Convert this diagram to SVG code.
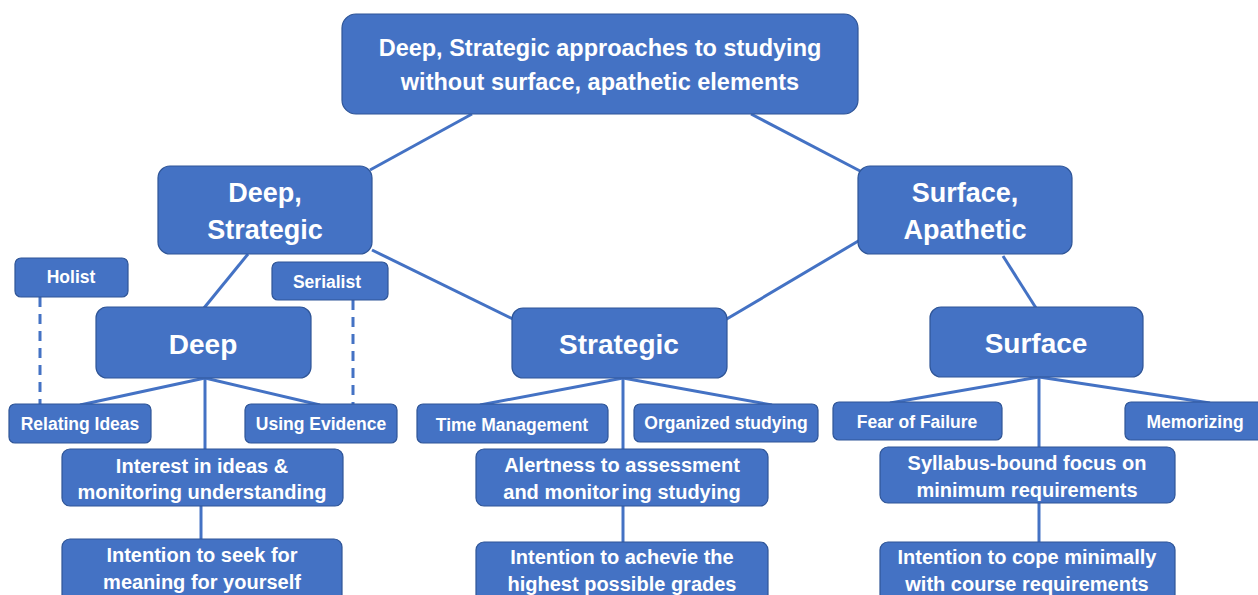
<svg xmlns="http://www.w3.org/2000/svg" width="1258" height="595" viewBox="0 0 1258 595">
<style>
.b{fill:#4472C4;stroke:#2F5597;stroke-width:1.2}
.t{fill:#fff;font-family:"Liberation Sans",Arial,sans-serif;font-weight:bold;text-anchor:middle;dominant-baseline:central}
.s{font-size:17.5px}
.m{font-size:20px}
.c line{stroke:#4472C4;stroke-width:3}
.d{stroke-dasharray:10 7}
</style>
<rect width="1258" height="595" fill="#fff"/>
<g class="c" id="connectors">
<line x1="472" y1="114" x2="370" y2="170"/>
<line x1="751" y1="114" x2="862" y2="172"/>
<line x1="248" y1="254" x2="204" y2="308"/>
<line x1="372" y1="250" x2="515" y2="320"/>
<line x1="860" y1="240" x2="725" y2="320"/>
<line x1="1003" y1="256" x2="1036" y2="308"/>
<line x1="205" y1="378" x2="80" y2="405"/>
<line x1="205" y1="378" x2="320" y2="405"/>
<line x1="205" y1="378" x2="205" y2="450"/>
<line x1="201" y1="506" x2="201" y2="540"/>
<line class="d" x1="40" y1="297" x2="40" y2="404"/>
<line class="d" x1="353" y1="300" x2="353" y2="404"/>
<line x1="623" y1="378" x2="480" y2="405"/>
<line x1="623" y1="378" x2="772" y2="405"/>
<line x1="623" y1="378" x2="623" y2="450"/>
<line x1="623" y1="506" x2="623" y2="543"/>
<line x1="1039" y1="377" x2="890" y2="403"/>
<line x1="1039" y1="377" x2="1210" y2="403"/>
<line x1="1039" y1="377" x2="1039" y2="448"/>
<line x1="1039" y1="503" x2="1039" y2="543"/>
</g>
<g id="root"><rect class="b" x="342" y="14" width="516" height="100" rx="14"/>
<text class="t" x="600" y="48" font-size="23.5">Deep, Strategic approaches to studying</text>
<text class="t" x="600" y="82" font-size="23.5">without surface, apathetic elements</text></g>
<g id="deep-strategic"><rect class="b" x="158" y="166" width="214" height="88" rx="12"/>
<text class="t" x="265" y="193" font-size="27">Deep,</text>
<text class="t" x="265" y="230" font-size="27">Strategic</text></g>
<g id="surface-apathetic"><rect class="b" x="858" y="166" width="214" height="88" rx="12"/>
<text class="t" x="965" y="193" font-size="27">Surface,</text>
<text class="t" x="965" y="230" font-size="27">Apathetic</text></g>
<g id="holist"><rect class="b" x="15" y="258" width="113" height="39" rx="6"/>
<text class="t s" x="71" y="277">Holist</text></g>
<g id="serialist"><rect class="b" x="272" y="262" width="116" height="38" rx="6"/>
<text class="t s" x="327" y="282">Serialist</text></g>
<g id="deep"><rect class="b" x="96" y="307" width="215" height="71" rx="11"/>
<text class="t" x="203" y="344" font-size="28">Deep</text></g>
<g id="strategic"><rect class="b" x="512" y="308" width="215" height="70" rx="11"/>
<text class="t" x="619" y="344" font-size="28">Strategic</text></g>
<g id="surface"><rect class="b" x="930" y="307" width="213" height="70" rx="11"/>
<text class="t" x="1036" y="343" font-size="28">Surface</text></g>
<g id="relating"><rect class="b" x="9" y="404" width="142" height="39" rx="6"/>
<text class="t s" x="80" y="424">Relating Ideas</text></g>
<g id="evidence"><rect class="b" x="245" y="404" width="152" height="39" rx="6"/>
<text class="t s" x="321" y="424">Using Evidence</text></g>
<g id="time"><rect class="b" x="417" y="404" width="191" height="39" rx="6"/>
<text class="t s" x="512" y="425">Time Management</text></g>
<g id="organized"><rect class="b" x="634" y="404" width="184" height="38" rx="6"/>
<text class="t s" x="726" y="423">Organized studying</text></g>
<g id="fear"><rect class="b" x="833" y="402" width="169" height="38" rx="6"/>
<text class="t s" x="917" y="422">Fear of Failure</text></g>
<g id="memorizing"><rect class="b" x="1125" y="402" width="140" height="38" rx="6"/>
<text class="t s" x="1195" y="422">Memorizing</text></g>
<g id="interest"><rect class="b" x="62" y="449" width="281" height="57" rx="8"/>
<text class="t m" x="202" y="466">Interest in ideas &amp;</text>
<text class="t m" x="202" y="492">monitoring understanding</text></g>
<g id="alertness"><rect class="b" x="476" y="449" width="292" height="57" rx="8"/>
<text class="t m" x="622" y="465">Alertness to assessment</text>
<text class="t m" x="622" y="492">and monitor<tspan dx="3">ing studying</tspan></text></g>
<g id="syllabus"><rect class="b" x="880" y="447" width="295" height="56" rx="8"/>
<text class="t m" x="1027" y="463">Syllabus-bound focus on</text>
<text class="t m" x="1027" y="490">minimum requirements</text></g>
<g id="seek"><rect class="b" x="62" y="539" width="280" height="66" rx="8"/>
<text class="t m" x="202" y="555">Intention to seek for</text>
<text class="t m" x="202" y="582">meaning for yourself</text></g>
<g id="achieve"><rect class="b" x="476" y="542" width="292" height="63" rx="8"/>
<text class="t m" x="622" y="557">Intention to achevie the</text>
<text class="t m" x="622" y="584">highest possible grades</text></g>
<g id="cope"><rect class="b" x="880" y="542" width="295" height="63" rx="8"/>
<text class="t m" x="1027" y="557">Intention to cope minimally</text>
<text class="t m" x="1027" y="584">with course requirements</text></g>
</svg>
